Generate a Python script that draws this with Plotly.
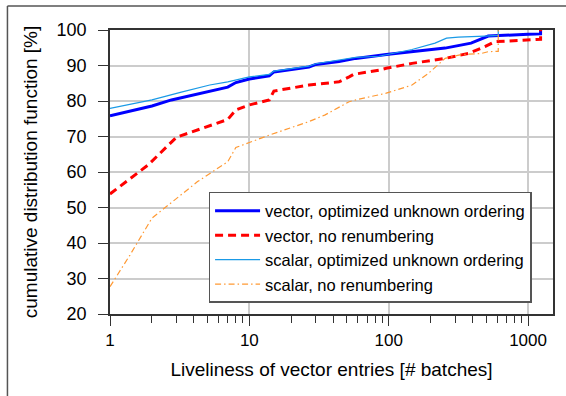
import plotly.graph_objects as go

# ---- data ----
vec_opt_x = [1, 2, 2.76, 5.6, 7, 8, 10, 13.9, 15, 26.8, 30, 44, 58, 96, 147, 254, 390, 490, 518, 1000, 1230, 1230]
vec_opt_y = [75.8, 78.6, 80.3, 83.1, 83.9, 85.2, 86.2, 87.1, 88.2, 89.6, 90.3, 91.1, 92.0, 93.1, 93.8, 94.9, 96.3, 98.0, 98.3, 98.8, 98.9, 100]

vec_noren_x = [1, 1.88, 3, 3.83, 7, 8, 10, 13.9, 15, 26.8, 44, 52, 56, 85, 96, 147, 254, 372, 490, 575, 1000, 1230, 1230]
vec_noren_y = [53.8, 62.0, 69.8, 71.3, 74.8, 77.5, 78.9, 80.3, 82.8, 84.5, 85.4, 86.8, 87.5, 88.7, 89.2, 90.6, 92.0, 93.4, 95.3, 96.7, 97.2, 97.4, 100]

sca_opt_x = [1, 2, 3.25, 5.2, 7, 10, 13.9, 15, 26.8, 30, 58, 85, 147, 215, 260, 316, 490, 611, 611]
sca_opt_y = [77.9, 80.3, 82.5, 84.5, 85.4, 86.8, 87.5, 88.4, 89.8, 90.5, 92.3, 92.6, 94.5, 96.3, 97.7, 98.0, 98.3, 98.5, 100]

sca_noren_x = [1, 1.39, 2, 2.4, 4.25, 7, 8, 10, 13.9, 26.8, 35, 52, 58, 96, 147, 193, 254, 333, 463, 518, 611, 611]
sca_noren_y = [27.7, 36.6, 47.0, 49.5, 57.3, 62.9, 66.9, 68.3, 70.4, 74.2, 76.1, 79.8, 80.3, 82.2, 84.5, 87.8, 92.0, 93.1, 93.4, 93.9, 94.0, 100]

names = ["vector, optimized unknown ordering", "vector, no renumbering",
         "scalar, optimized unknown ordering", "scalar, no renumbering"]

x_ticks = [1, 10, 100, 1000]
x_ticktext = ["1", "10", "100", "1000"]
y_ticks = [20, 30, 40, 50, 60, 70, 80, 90, 100]

FONT = "Liberation Sans, Arial, Helvetica, sans-serif"

fig = go.Figure()
fig.add_trace(go.Scatter(x=vec_opt_x, y=vec_opt_y, mode="lines", name=names[0], legendgroup="a",
                         line=dict(color="#0000ff", width=3)))
fig.add_trace(go.Scatter(x=vec_noren_x, y=vec_noren_y, mode="lines", name=names[1], legendgroup="b",
                         line=dict(color="#ff0000", width=3, dash="8px,5px")))
fig.add_trace(go.Scatter(x=sca_opt_x, y=sca_opt_y, mode="lines", name=names[2], legendgroup="c",
                         line=dict(color="#1a9ae6", width=1.2)))
fig.add_trace(go.Scatter(x=sca_noren_x, y=sca_noren_y, mode="lines", name=names[3], legendgroup="d",
                         line=dict(color="#ff9933", width=1.2, dash="6px,3px,1.5px,3px")))

fig.update_xaxes(type="log", range=[0, 3.179], tickvals=x_ticks, ticktext=x_ticktext,
                 ticks="outside", ticklen=10, tickwidth=1.2, tickcolor="#333",
                 showgrid=True, gridcolor="#cccccc", gridwidth=1.5,
                 showline=True, linecolor="#333", linewidth=1.5, mirror=True,
                 minor=dict(ticks="outside", ticklen=7, tickwidth=1, tickcolor="#333",
                            dtick="D1", showgrid=False),
                 tickfont=dict(size=17, color="black"),
                 title=dict(text="Liveliness of vector entries [# batches]",
                            font=dict(size=19, color="black"), standoff=14),
                 zeroline=False)
fig.update_yaxes(range=[20, 100], tickvals=y_ticks,
                 ticks="outside", ticklen=10, tickwidth=1.2, tickcolor="#333",
                 showgrid=True, gridcolor="#cccccc", gridwidth=1.5,
                 showline=True, linecolor="#333", linewidth=1.5, mirror=True,
                 tickfont=dict(size=18, color="black"), ticklabelstandoff=8,
                 title=dict(text="cumulative distribution function [%]",
                            font=dict(size=19, color="black"), standoff=14),
                 zeroline=False)

# outer frame lines (left and top) as in the reference
fig.add_shape(type="line", xref="paper", yref="paper", x0=-0.2315, x1=-0.2315, y0=-0.35, y1=1.0845,
              line=dict(color="#555", width=1.5))
fig.add_shape(type="line", xref="paper", yref="paper", x0=-0.2315, x1=1.05, y0=1.0845, y1=1.0845,
              line=dict(color="#555", width=1.5))

fig.update_layout(
    width=566, height=396,
    margin=dict(l=110, r=11, t=30, b=82),
    paper_bgcolor="white", plot_bgcolor="white",
    font=dict(family=FONT, color="black"),
    showlegend=True,
    legend=dict(x=0.2225, y=0.4296, xanchor="left", yanchor="top",
                bgcolor="white", bordercolor="#555", borderwidth=1.5,
                font=dict(size=16.5, color="black"), tracegroupgap=5,
                itemwidth=45, traceorder="normal"),
)

fig.write_html("out.html")
